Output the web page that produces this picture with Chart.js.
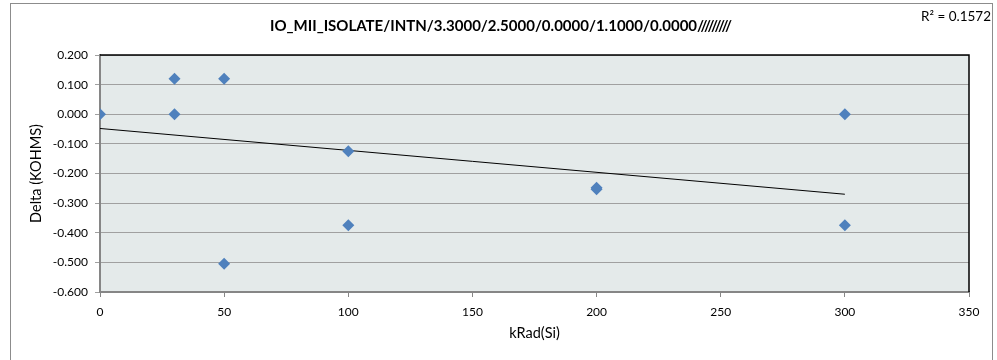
<!DOCTYPE html>
<html>
<head>
<meta charset="utf-8">
<script src="https://cdn.jsdelivr.net/npm/chart.js@4"></script>
<style>
  html, body { margin: 0; padding: 0; background: #ffffff; }
  #wrap { position: relative; width: 997px; height: 360px; }
</style>
</head>
<body>
<div id="wrap"><canvas id="chart" width="997" height="360"></canvas></div>
<script>
const chartTitle = 'IO_MII_ISOLATE/INTN/3.3000/2.5000/0.0000/1.1000/0.0000/////////';
const xLabel = 'kRad(Si)';
const yLabel = 'Delta (KOHMS)';
const rSquared = 'R² = 0.1572';

// measured points
const doseValues = [0, 30, 30, 50, 50, 100, 100, 200, 200, 300, 300];
const deltaValues = [0, 0.12, 0, 0.12, -0.505, -0.125, -0.375, -0.248, -0.253, 0, -0.375];

// linear trendline end points
const trendDose = [0, 300];
const trendDelta = [-0.048, -0.27];

const points = doseValues.map((x, i) => ({ x, y: deltaValues[i] }));
const trend = trendDose.map((x, i) => ({ x, y: trendDelta[i] }));

// background, frame, title centred on the chart object, R² label
const frame = {
    id: 'frame',
    beforeDraw(chart) {
        const { ctx, chartArea } = chart;
        ctx.save();
        ctx.fillStyle = '#e4eaea';
        ctx.fillRect(chartArea.left, chartArea.top, chartArea.right - chartArea.left, chartArea.bottom - chartArea.top);
        ctx.strokeStyle = '#8c8c8c';
        ctx.lineWidth = 1;
        ctx.strokeRect(10.5, 3.5, 982, 400);
        ctx.restore();
    },
    afterDraw(chart) {
        const { ctx, chartArea } = chart;
        ctx.save();
        ctx.strokeStyle = '#000000';
        ctx.lineWidth = 1.5;
        ctx.beginPath();
        ctx.moveTo(chartArea.left, chartArea.top);
        ctx.lineTo(chartArea.right, chartArea.top);
        ctx.lineTo(chartArea.right, chartArea.bottom);
        ctx.stroke();
        ctx.fillStyle = '#000000';
        ctx.textBaseline = 'middle';
        ctx.font = 'bold 15px Lato';
        ctx.textAlign = 'center';
        ctx.fillText(chartTitle, 501, 26.5);
        ctx.font = '13.5px Lato';
        ctx.textAlign = 'right';
        ctx.fillText(rSquared, 991, 16.5);
        ctx.restore();
    }
};

new Chart(document.getElementById('chart'), {
    type: 'scatter',
    data: {
        datasets: [{
            label: 'Delta',
            data: points,
            pointStyle: 'rectRot',
            pointRadius: 6,
            pointHoverRadius: 6,
            backgroundColor: '#4f81bd',
            borderColor: '#4f81bd',
            borderWidth: 0,
            order: 1
        }, {
            type: 'line',
            label: 'Trend',
            data: trend,
            borderColor: '#000000',
            borderWidth: 1,
            pointRadius: 0,
            fill: false,
            order: 2
        }]
    },
    plugins: [frame],
    options: {
        responsive: false,
        animation: false,
        layout: { padding: { left: 0, right: 28, top: 55, bottom: 0 } },
        plugins: {
            legend: { display: false },
            tooltip: { enabled: false },
            title: { display: false }
        },
        scales: {
            x: {
                type: 'linear',
                min: 0,
                max: 350,
                afterFit(scale) { scale.height = 68; },
                ticks: {
                    stepSize: 50,
                    color: '#000000',
                    font: { family: 'Lato', size: 12 },
                    padding: 8,
                    maxRotation: 0
                },
                grid: {
                    drawOnChartArea: false,
                    drawTicks: true,
                    tickLength: 5,
                    color: '#868686'
                },
                border: { color: '#868686', width: 2 },
                title: {
                    display: true,
                    text: xLabel,
                    color: '#000000',
                    font: { family: 'Lato', size: 14.5 },
                    padding: { top: 0, bottom: 18 }
                }
            },
            y: {
                min: -0.6,
                max: 0.2,
                afterFit(scale) { scale.width = 100; },
                ticks: {
                    stepSize: 0.1,
                    color: '#000000',
                    font: { family: 'Lato', size: 12 },
                    padding: 7,
                    callback: v => (Math.abs(v) < 1e-9 ? 0 : v).toFixed(3)
                },
                grid: {
                    color: '#a0a0a0',
                    lineWidth: 1,
                    drawTicks: true,
                    tickLength: 5
                },
                border: { color: '#868686', width: 2 },
                title: {
                    display: true,
                    text: yLabel,
                    color: '#000000',
                    font: { family: 'Lato', size: 14.5 },
                    padding: { top: 28, bottom: 0 }
                }
            }
        }
    }
});
</script>
</body>
</html>
